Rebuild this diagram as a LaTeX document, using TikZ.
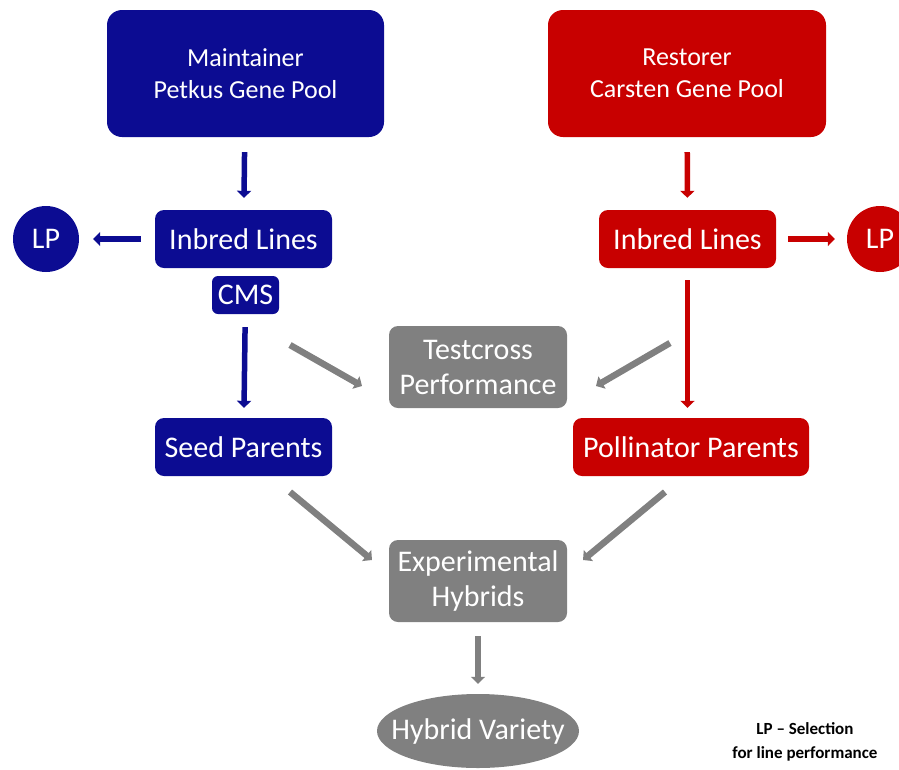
\documentclass[tikz,border=0pt]{standalone}
\usepackage{fontspec}
\setmainfont{Carlito}
\usetikzlibrary{arrows.meta,shapes.geometric}
\definecolor{poolblue}{RGB}{12,12,146}
\definecolor{poolred}{RGB}{200,0,0}
\definecolor{poolgrey}{RGB}{128,128,128}

\begin{document}
\begin{tikzpicture}[x=1pt,y=-1pt,
  box/.style={rounded corners=9pt,text=white,align=center,inner sep=0pt},
  bluebox/.style={box,fill=poolblue},
  redbox/.style={box,fill=poolred},
  greybox/.style={box,fill=poolgrey},
  flow/.style={line width=5.5pt,-{Triangle[width=14pt,length=7pt]}},
  greyflow/.style={flow,poolgrey,line width=6.5pt},
  big/.style={font=\fontsize{30}{35}\selectfont},
  mid/.style={font=\fontsize{26}{32}\selectfont}]
\useasboundingbox (0,0) rectangle (899,769);
% gene pools
\node[bluebox,rounded corners=15pt,mid,minimum width=277pt,minimum height=127pt] (maint) at (245.5,73.5) {Maintainer\\Petkus Gene Pool};
\node[redbox,rounded corners=15pt,mid,minimum width=278pt,minimum height=127pt] (rest) at (687,73.5) {Restorer\\Carsten Gene Pool};
% inbred lines
\node[bluebox,big,minimum width=177pt,minimum height=58pt] (inbl) at (243.5,239) {Inbred Lines};
\node[redbox,big,minimum width=177pt,minimum height=58pt] (inbr) at (687.5,239) {Inbred Lines};
\node[bluebox,big,rounded corners=6pt,minimum width=67pt,minimum height=38pt] (cms) at (245.5,295) {CMS};
% selection circles
\node[circle,fill=poolblue,text=white,big,minimum size=66pt,inner sep=0pt] (lpl) at (46,239) {LP};
\node[circle,fill=poolred,text=white,big,minimum size=66pt,inner sep=0pt] (lpr) at (880,239) {LP};
% parents
\node[bluebox,big,minimum width=177pt,minimum height=58pt] (seed) at (243.5,447) {Seed Parents};
\node[redbox,big,minimum width=236pt,minimum height=58pt] (poll) at (691,447) {Pollinator Parents};
% grey boxes
\node[greybox,big,minimum width=178pt,minimum height=82pt] (test) at (478,367) {Testcross\\Performance};
\node[greybox,big,minimum width=178pt,minimum height=82pt] (exph) at (478,581) {Experimental\\Hybrids};
\node[ellipse,fill=poolgrey,text=white,big,minimum width=202pt,minimum height=74pt,inner xsep=-16pt,inner ysep=0pt] (hyb) at (478,731) {Hybrid Variety};
% legend
\node[align=center,font=\bfseries\fontsize{17}{24}\selectfont] (legend) at (805,742) {LP -- Selection\\for line performance};
% free arrow ends
\coordinate (tl1) at (290,345);
\coordinate (tl2) at (362,386);
\coordinate (tr1) at (670,343);
\coordinate (tr2) at (596,386);
\coordinate (el1) at (290,492);
\coordinate (el2) at (372,560);
\coordinate (er1) at (665,492);
\coordinate (er2) at (583,560);
% blue arrows
\draw[flow,poolblue,shorten <=15pt,shorten >=12pt] (maint) -- (inbl);
\draw[flow,poolblue,shorten <=14pt,shorten >=14pt] (inbl) -- (lpl);
\draw[flow,poolblue,shorten <=13pt,shorten >=10pt] (cms) -- (seed);
% red arrows
\draw[flow,poolred,shorten <=15pt,shorten >=12pt] (rest) -- (inbr);
\draw[flow,poolred,shorten <=12pt,shorten >=12pt] (inbr) -- (lpr);
\draw[flow,poolred,shorten <=12pt,shorten >=10pt] (inbr.south) -- (inbr.south|-poll.north);
% grey arrows
\draw[greyflow] (tl1) -- (tl2);
\draw[greyflow] (tr1) -- (tr2);
\draw[greyflow] (el1) -- (el2);
\draw[greyflow] (er1) -- (er2);
\draw[greyflow,shorten <=14pt,shorten >=10pt] (exph) -- (hyb);
\end{tikzpicture}
\end{document}
